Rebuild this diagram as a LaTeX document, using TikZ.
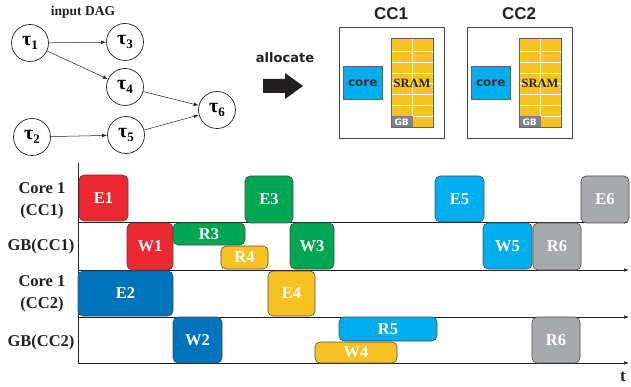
\documentclass[tikz,border=0pt]{standalone}
\usepackage{fontspec}
\setmainfont{Liberation Serif}
\newfontfamily\cjsans{DejaVu Sans}
\newfontfamily\lsans{Liberation Sans}
\usetikzlibrary{arrows.meta}

\definecolor{cred}{HTML}{EC2833}
\definecolor{cgreen}{HTML}{00A651}
\definecolor{cblue}{HTML}{0073BD}
\definecolor{ccyan}{HTML}{00AEEF}
\definecolor{cyellow}{HTML}{F7C221}
\definecolor{cgray}{HTML}{A7A9AC}
\definecolor{cdark}{HTML}{231F20}
\definecolor{cgb}{HTML}{808285}

\tikzset{
  task/.style={draw=cdark!80, line width=0.6pt, rounded corners=5pt,
    inner sep=0pt, outer sep=0pt, text=white,
    font=\fontsize{16.5}{16.5}\selectfont\bfseries},
  rowlabel/.style={align=center, text=cdark,
    font=\fontsize{16.5}{22}\selectfont\bfseries},
  dagnode/.style={circle, draw=cdark, line width=0.7pt, minimum size=37pt,
    inner sep=0pt},
  dagedge/.style={draw=cdark, line width=0.5pt, -{Latex[length=5pt,width=3.5pt]}},
  axis/.style={draw=cdark, line width=0.6pt},
  timeaxis/.style={axis, -{Latex[length=5pt,width=3.5pt]}},
  ccbox/.style={draw=cdark!85, line width=0.8pt, fill=white, inner sep=0pt},
  cctitle/.style={font=\lsans\fontsize{17}{17}\selectfont\bfseries, text=cdark},
  corebox/.style={draw=cdark!70, line width=0.5pt, fill=ccyan, inner sep=0pt,
    font=\cjsans\fontsize{12}{12}\selectfont\bfseries, text=cdark!90},
}

% task box given its corners (x1,y1) and (x2,y2)
\newcommand\taskbox[7]{%
  \pgfmathsetmacro\tbw{#4-#2}\pgfmathsetmacro\tbh{#5-#3}%
  \node[task, fill=#6, minimum width=\tbw pt, minimum height=\tbh pt]
    (#1) at ({(#2+#4)/2},{(#3+#5)/2}) {#7};}

% τ with a subscript
\newcommand\tsk[1]{\fontsize{20}{20}\selectfont\bfseries τ\raisebox{-4pt}{\fontsize{13}{13}\selectfont #1}}

% a compute cluster: core and an SRAM stack with its GB cell
\newcommand\cluster[5]{% name, box x1, x2, core x1, sram x1
  \node[ccbox, minimum width={(#3-#2)*1pt}, minimum height=111pt,
    anchor=north west] (#1box) at (#2,27) {};
  \node[corebox, minimum width=39pt, minimum height=33pt, anchor=north west]
    (#1core) at (#4,66.5) {core};
  \fill[cyellow] (#5,38.5) rectangle ++(42,89);
  \foreach \yy in {51.5,62.5,73,83.5,94,105,116.5}
    \draw[white, line width=0.9pt] (#5,\yy) -- ++(42,0);
  \draw[white, line width=0.9pt] (#5+21,38.5) -- ++(0,89);
  \node[draw=cgb, fill=cgb, inner sep=0pt, minimum width=21pt, minimum height=11pt,
    anchor=south west, text=white, font=\cjsans\fontsize{9}{9}\selectfont\bfseries]
    (#1gb) at (#5,127.5) {GB};
  \draw[cdark!70, line width=0.6pt] (#5,38.5) rectangle ++(42,89);
  \node[font=\fontsize{12.5}{12.5}\selectfont\bfseries, text=cdark]
    (#1sram) at (#5+21,83) {SRAM};
}

\begin{document}
\begin{tikzpicture}[x=1pt, y=-1pt]
\useasboundingbox (0,0) rectangle (631,387);

% ---- input DAG ----
\node[font=\fontsize{13.5}{13.5}\selectfont\bfseries, text=cdark] (dagtitle) at (83,12) {input DAG};
\node[dagnode] (t1) at (30,43) {\tsk1};
\node[dagnode] (t3) at (125,42) {\tsk3};
\node[dagnode] (t4) at (125,87) {\tsk4};
\node[dagnode] (t6) at (217,110) {\tsk6};
\node[dagnode] (t2) at (32,137) {\tsk2};
\node[dagnode] (t5) at (126,135) {\tsk5};
\draw[dagedge] (t1) -- (t3);
\draw[dagedge] (t1) -- (t4);
\draw[dagedge] (t4) -- (t6);
\draw[dagedge] (t5) -- (t6);
\draw[dagedge] (t2) -- (t5);

% ---- allocate arrow ----
\node[font=\cjsans\fontsize{13}{13}\selectfont\bfseries, text=cdark] (alloc) at (285,58) {allocate};
\fill[cdark] (263,79) -- (285,79) -- (285,73) -- (303,86) -- (285,99) -- (285,93) -- (263,93) -- cycle;

% ---- compute clusters ----
\node[cctitle] (cc1title) at (391,14) {CC1};
\node[cctitle] (cc2title) at (519,14) {CC2};
\cluster{ca}{339}{444}{343}{391}
\cluster{cb}{467}{572}{471}{519}

% ---- schedule axes ----
\coordinate (origin) at (78,363);
\coordinate (top) at (78,163);
\coordinate (e1) at (629,222);
\coordinate (e2) at (629,270);
\coordinate (e3) at (629,317);
\coordinate (e4) at (629,363);
\draw[axis] (top) -- (origin);
\draw[timeaxis] (78,222) -- (e1);
\draw[timeaxis] (78,270) -- (e2);
\draw[timeaxis] (78,317) -- (e3);
\draw[timeaxis] (origin) -- (e4);
\node[font=\fontsize{17}{17}\selectfont\bfseries, text=cdark] (tlabel) at (623,377) {t};

\node[rowlabel] (row1) at (42,201) {Core 1\\(CC1)};
\node[rowlabel] (row2) at (41,247) {GB(CC1)};
\node[rowlabel] (row3) at (42,294) {Core 1\\(CC2)};
\node[rowlabel] (row4) at (41,343) {GB(CC2)};

% ---- tasks ----
% Core 1 (CC1)
\taskbox{E1}{79}{175}{128}{221}{cred}{E1}
\taskbox{E3}{245}{176}{293}{223}{cgreen}{E3}
\taskbox{E5}{435}{176}{484}{222}{ccyan}{E5}
\taskbox{E6}{581}{176}{629}{223}{cgray}{E6}
% GB(CC1)
\taskbox{W1}{127}{223}{173}{270}{cred}{W1}
\taskbox{R3}{173}{223}{245}{245}{cgreen}{R3}
\taskbox{R4}{221}{246}{268}{269}{cyellow}{R4}
\taskbox{W3}{290}{223}{334}{269}{cgreen}{W3}
\taskbox{W5}{483}{223}{532}{269}{ccyan}{W5}
\taskbox{R6a}{533}{223}{581}{270}{cgray}{R6}
% Core 1 (CC2)
\taskbox{E2}{78}{271}{173}{316}{cblue}{E2}
\taskbox{E4}{268}{271}{315}{316}{cyellow}{E4}
% GB(CC2)
\taskbox{W2}{173}{317}{222}{363}{cblue}{W2}
\taskbox{R5}{339}{317}{437}{341}{ccyan}{R5}
\taskbox{W4}{315}{342}{397}{363}{cyellow}{W4}
\taskbox{R6b}{532}{317}{580}{363}{cgray}{R6}
\end{tikzpicture}
\end{document}
